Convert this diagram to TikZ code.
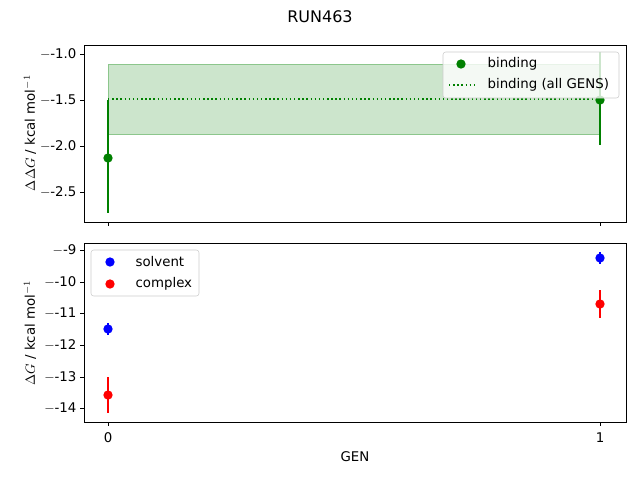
\documentclass[tikz,border=0pt]{standalone}
\usepackage{fontspec}
\setmainfont{DejaVu Sans}
\usepackage{tikz}
\usetikzlibrary{positioning}
\definecolor{mplgreen}{RGB}{0,128,0}
\tikzset{
  frame/.style={draw=black,line width=0.6pt},
  tick/.style={line width=0.6pt},
  ticklab/.style={font=\fontsize{10}{12}\selectfont,anchor=east,inner sep=1pt},
  pt/.style={circle,fill=#1,inner sep=0pt,minimum size=7pt},
  err/.style={draw=#1,line width=1.1pt},
  leg/.style={font=\fontsize{10}{12}\selectfont,anchor=west,inner sep=1pt}
}
\begin{document}
\begin{tikzpicture}[x=0.75pt,y=-0.75pt]
      \useasboundingbox (0,0) rectangle (640,480);
      \node at (320,17) (title) {\fontsize{12}{14}\selectfont RUN463};
      % top panel
      \fill[mplgreen!20] (108,64) rectangle (600,134);
      \draw[mplgreen!45,line width=0.6pt] (108,64) rectangle (600,134);
      \draw[mplgreen,dotted,line width=1.1pt] (108,99) -- (600,99);
      \draw[err=mplgreen] (108,100) -- (108,213);
      \draw[err=mplgreen] (600,52) -- (600,145);
      \node[pt=mplgreen] at (108,158) (b0) {};
      \node[pt=mplgreen] at (600,100) (b1) {};
      \draw[frame] (84,45) rectangle (626,222);
      \foreach \yy/\lab in {54/-1.0,100/-1.5,146/-2.0,192/-2.5} {
        \draw[tick] (84,\yy) -- (80,\yy);
        \node[ticklab] at (78,\yy) {$-$\lab};
      }
      \draw[tick] (108,222) -- (108,226);
      \draw[tick] (600,222) -- (600,226);
      \node[rotate=90,font=\fontsize{10}{12}\selectfont] at (30,133) (ylabtop) {$\Delta\Delta G$ / kcal mol$^{-1}$};
      \draw[fill=white,fill opacity=0.8,draw=black!20,rounded corners=2pt] (443,52) rectangle (619,98);
      \node[pt=mplgreen] at (461,64) (lb) {};
      \node[leg] at (486,64) (lbt) {binding};
      \draw[mplgreen,dotted,line width=1.1pt] (449,85) -- (475,85);
      \node[leg] at (486,85) (lat) {binding (all GENS)};
      % bottom panel
      \draw[err=blue] (108,323) -- (108,335);
      \draw[err=blue] (600,252) -- (600,264);
      \draw[err=red] (108,377) -- (108,413);
      \draw[err=red] (600,290) -- (600,318);
      \node[pt=blue] at (108,329) (s0) {};
      \node[pt=blue] at (600,258) (s1) {};
      \node[pt=red] at (108,395) (c0) {};
      \node[pt=red] at (600,304) (c1) {};
      \draw[frame] (84,243) rectangle (626,422);
      \foreach \yy/\lab in {250/-9,282/-10,313/-11,345/-12,377/-13,408/-14} {
        \draw[tick] (84,\yy) -- (80,\yy);
        \node[ticklab] at (78,\yy) {$-$\lab};
      }
      \draw[tick] (108,422) -- (108,426);
      \draw[tick] (600,422) -- (600,426);
      \node[font=\fontsize{10}{12}\selectfont] at (108,438) (x0) {0};
      \node[font=\fontsize{10}{12}\selectfont] at (600,438) (x1) {1};
      \node[font=\fontsize{10}{12}\selectfont] at (355,457) (xlab) {GEN};
      \node[rotate=90,font=\fontsize{10}{12}\selectfont] at (30,333) (ylabbot) {$\Delta G$ / kcal mol$^{-1}$};
      \draw[fill=white,fill opacity=0.8,draw=black!20,rounded corners=2pt] (91,250) rectangle (199,296);
      \node[pt=blue] at (110,262) (ls) {};
      \node[leg] at (134,262) (lst) {solvent};
      \node[pt=red] at (110,284) (lc) {};
      \node[leg] at (134,284) (lct) {complex};
\end{tikzpicture}
\end{document}
